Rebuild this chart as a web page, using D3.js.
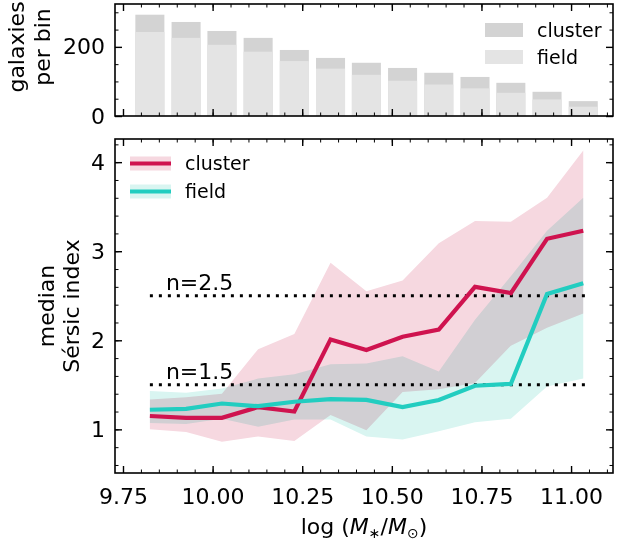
<!DOCTYPE html>
<html><head><meta charset="utf-8">
<script src="https://cdn.jsdelivr.net/npm/d3@7"></script>
<style>
body{margin:0;background:#fff;}
svg{font-family:"DejaVu Sans",sans-serif;}
.band{mix-blend-mode:multiply;}
</style></head>
<body><svg id="c" width="618" height="542"></svg>
<script>
// ---- data ----
const massBins = [9.825, 9.926, 10.026, 10.127, 10.228, 10.329, 10.429, 10.530, 10.631, 10.732, 10.832, 10.933, 11.034];
const countCluster = [293, 272, 246, 226, 191, 168, 154, 139, 125, 113, 96, 70, 43];
const countField   = [243, 226, 206, 186, 159, 137, 119, 102, 91, 80, 67, 48, 27];
const clusterMedian = [1.15, 1.13, 1.13, 1.25, 1.20, 2.01, 1.89, 2.04, 2.12, 2.60, 2.53, 3.14, 3.23];
const clusterLow    = [1.00, 0.97, 0.86, 0.92, 0.87, 1.16, 0.99, 1.42, 1.45, 1.52, 1.94, 2.14, 2.30];
const clusterHigh   = [1.335, 1.36, 1.40, 1.90, 2.07, 2.87, 2.55, 2.67, 3.09, 3.34, 3.33, 3.60, 4.13];
const fieldMedian = [1.22, 1.23, 1.29, 1.26, 1.31, 1.34, 1.33, 1.25, 1.33, 1.49, 1.51, 2.52, 2.64];
const fieldLow    = [1.07, 1.06, 1.12, 1.03, 1.11, 1.11, 0.92, 0.885, 0.98, 1.08, 1.12, 1.48, 1.57];
const fieldHigh   = [1.43, 1.41, 1.46, 1.57, 1.62, 1.73, 1.74, 1.82, 1.65, 2.23, 2.72, 3.23, 3.60];
const refLevels = [2.5, 1.5];
const refLabels = ["n=2.5", "n=1.5"];
const xMajor = [9.75, 10.00, 10.25, 10.50, 10.75, 11.00];
const xMinor = [9.75,9.80,9.85,9.90,9.95,10.00,10.05,10.10,10.15,10.20,10.25,10.30,10.35,10.40,10.45,10.50,10.55,10.60,10.65,10.70,10.75,10.80,10.85,10.90,10.95,11.00,11.05,11.10];
const yMajorN = [1, 2, 3, 4];
const yMinorN = [0.6,0.8,1.0,1.2,1.4,1.6,1.8,2.0,2.2,2.4,2.6,2.8,3.0,3.2,3.4,3.6,3.8,4.0,4.2];
const yMajorCount = [0, 200];
const yMinorCount = [50, 100, 150, 250, 300];
const seriesNames = ["cluster", "field"];

// ---- layout ----
const L = 115, R = 613;
const topP = {t: 4, b: 116};
const botP = {t: 139, b: 473};
const barWidth = 0.081;
const colRed = "#cf134f", colTeal = "#22cdc0";
const colPink = "#f6d8e0", colAqua = "#d9f5f1";
const colBarC = "#d3d3d3", colBarF = "#e4e4e4";
const FS = 22, LFS = 19;

const svg = d3.select("#c");
const x = d3.scaleLinear().domain([9.7277, 11.117]).range([L, R]);
const yT = d3.scaleLinear().domain([0, 324]).range([topP.b, topP.t]);
const yB = d3.scaleLinear().domain([0.51, 4.26]).range([botP.b, botP.t]);

// ---- top panel bars ----
const gT = svg.append("g");
gT.selectAll("rect.c").data(massBins).join("rect")
  .attr("x", (d) => x(d - barWidth/2)).attr("width", (d) => x(d + barWidth/2) - x(d - barWidth/2))
  .attr("y", (d,i) => yT(countCluster[i])).attr("height", (d,i) => yT(0) - yT(countCluster[i]))
  .attr("fill", colBarC);
gT.selectAll("rect.f").data(massBins).join("rect")
  .attr("x", (d) => x(d - barWidth/2)).attr("width", (d) => x(d + barWidth/2) - x(d - barWidth/2))
  .attr("y", (d,i) => yT(countField[i])).attr("height", (d,i) => yT(0) - yT(countField[i]))
  .attr("fill", colBarF);

// top legend
const tl = svg.append("g");
[colBarC, colBarF].forEach((c, i) => {
  tl.append("rect").attr("x", 485).attr("y", 23 + i*27).attr("width", 38).attr("height", 14).attr("fill", c);
  tl.append("text").attr("x", 537).attr("y", 36.5 + i*27).attr("font-size", LFS).text(seriesNames[i]);
});

// ---- bottom panel ----
const gB = svg.append("g");
const area = (lo, hi) => d3.area().x((d) => x(d)).y0((d,i) => yB(lo[i])).y1((d,i) => yB(hi[i]));
gB.append("path").attr("class","band").attr("d", area(clusterLow, clusterHigh)(massBins)).attr("fill", colPink);
gB.append("path").attr("class","band").attr("d", area(fieldLow, fieldHigh)(massBins)).attr("fill", colAqua);

// reference lines
refLevels.forEach((v, i) => {
  gB.append("line").attr("x1", x(massBins[0])).attr("x2", x(massBins[massBins.length-1]) + 2)
    .attr("y1", yB(v)).attr("y2", yB(v)).attr("stroke", "#000").attr("stroke-width", 3)
    .attr("stroke-dasharray", "3,6");
  gB.append("text").attr("x", x(massBins[0]) + 16).attr("y", yB(v) - 6).attr("font-size", FS).text(refLabels[i]);
});

const line = (vals) => d3.line().x((d) => x(d)).y((d,i) => yB(vals[i]));
gB.append("path").attr("d", line(clusterMedian)(massBins)).attr("fill","none").attr("stroke", colRed).attr("stroke-width", 4.2);
gB.append("path").attr("d", line(fieldMedian)(massBins)).attr("fill","none").attr("stroke", colTeal).attr("stroke-width", 4.2);

// bottom legend
const bl = svg.append("g");
[[colPink, colRed], [colAqua, colTeal]].forEach((c, i) => {
  bl.append("rect").attr("x", 130).attr("y", 156.5 + i*28).attr("width", 41).attr("height", 14).attr("fill", c[0]);
  bl.append("line").attr("x1", 130).attr("x2", 171).attr("y1", 163.5 + i*28).attr("y2", 163.5 + i*28)
    .attr("stroke", c[1]).attr("stroke-width", 4.2);
  bl.append("text").attr("x", 185).attr("y", 170 + i*28).attr("font-size", LFS).text(seriesNames[i]);
});

// ---- axes ----
function styleAxis(g, labels) {
  g.select(".domain").remove();
  g.selectAll(".tick line").attr("stroke", "#000");
  if (!labels) g.selectAll(".tick text").remove();
  else g.selectAll(".tick text").attr("font-size", FS).attr("font-family", "DejaVu Sans").attr("fill", "#000");
}
function panelAxes(y, top, bot, yMaj, yMin, xLabels, yFmt) {
  const maj = 7, mnr = 3.5;
  // bottom
  svg.append("g").attr("transform", `translate(0,${bot})`)
    .call(d3.axisBottom(x).tickValues(xMinor).tickSize(-mnr).tickFormat("")).call((g) => styleAxis(g, false));
  svg.append("g").attr("transform", `translate(0,${bot})`)
    .call(d3.axisBottom(x).tickValues(xMajor).tickSize(-maj).tickPadding(15).tickFormat(d3.format(".2f")))
    .call((g) => { styleAxis(g, xLabels); g.selectAll(".tick line").attr("stroke-width", 1.4); });
  // top
  svg.append("g").attr("transform", `translate(0,${top})`)
    .call(d3.axisTop(x).tickValues(xMinor).tickSize(-mnr).tickFormat("")).call((g) => styleAxis(g, false));
  svg.append("g").attr("transform", `translate(0,${top})`)
    .call(d3.axisTop(x).tickValues(xMajor).tickSize(-maj).tickFormat(""))
    .call((g) => { styleAxis(g, false); g.selectAll(".tick line").attr("stroke-width", 1.4); });
  // left
  svg.append("g").attr("transform", `translate(${L},0)`)
    .call(d3.axisLeft(y).tickValues(yMin).tickSize(-mnr).tickFormat("")).call((g) => styleAxis(g, false));
  svg.append("g").attr("transform", `translate(${L},0)`)
    .call(d3.axisLeft(y).tickValues(yMaj).tickSize(-maj).tickPadding(10).tickFormat(yFmt))
    .call((g) => { styleAxis(g, true); g.selectAll(".tick line").attr("stroke-width", 1.4); });
  // right
  svg.append("g").attr("transform", `translate(${R},0)`)
    .call(d3.axisRight(y).tickValues(yMin).tickSize(-mnr).tickFormat("")).call((g) => styleAxis(g, false));
  svg.append("g").attr("transform", `translate(${R},0)`)
    .call(d3.axisRight(y).tickValues(yMaj).tickSize(-maj).tickFormat(""))
    .call((g) => { styleAxis(g, false); g.selectAll(".tick line").attr("stroke-width", 1.4); });
  svg.append("rect").attr("x", L).attr("y", top).attr("width", R - L).attr("height", bot - top)
    .attr("fill", "none").attr("stroke", "#000").attr("stroke-width", 1.6);
}
panelAxes(yT, topP.t, topP.b, yMajorCount, yMinorCount, false, d3.format("d"));
panelAxes(yB, botP.t, botP.b, yMajorN, yMinorN, true, d3.format("d"));

// axis labels
const yl1 = svg.append("text").attr("transform", "translate(0,47) rotate(-90)").attr("text-anchor", "middle").attr("font-size", FS);
yl1.append("tspan").attr("x", 0).attr("y", 24).text("galaxies");
yl1.append("tspan").attr("x", 0).attr("y", 50).text("per bin");
const yl2 = svg.append("text").attr("transform", "translate(0,306) rotate(-90)").attr("text-anchor", "middle").attr("font-size", FS);
yl2.append("tspan").attr("x", 0).attr("y", 54).text("median");
yl2.append("tspan").attr("x", 0).attr("y", 79).text("Sérsic index");

const xl = svg.append("text").attr("x", (L + R)/2).attr("y", 534).attr("text-anchor", "middle").attr("font-size", FS);
xl.append("tspan").text("log (");
xl.append("tspan").attr("font-style", "italic").text("M");
xl.append("tspan").attr("font-size", 14).attr("dy", 4).text("∗");
xl.append("tspan").attr("dy", -4).text("/");
xl.append("tspan").attr("font-style", "italic").text("M");
xl.append("tspan").attr("font-size", 14).attr("dy", 4).text("⊙");
xl.append("tspan").attr("dy", -4).text(")");
</script></body></html>
